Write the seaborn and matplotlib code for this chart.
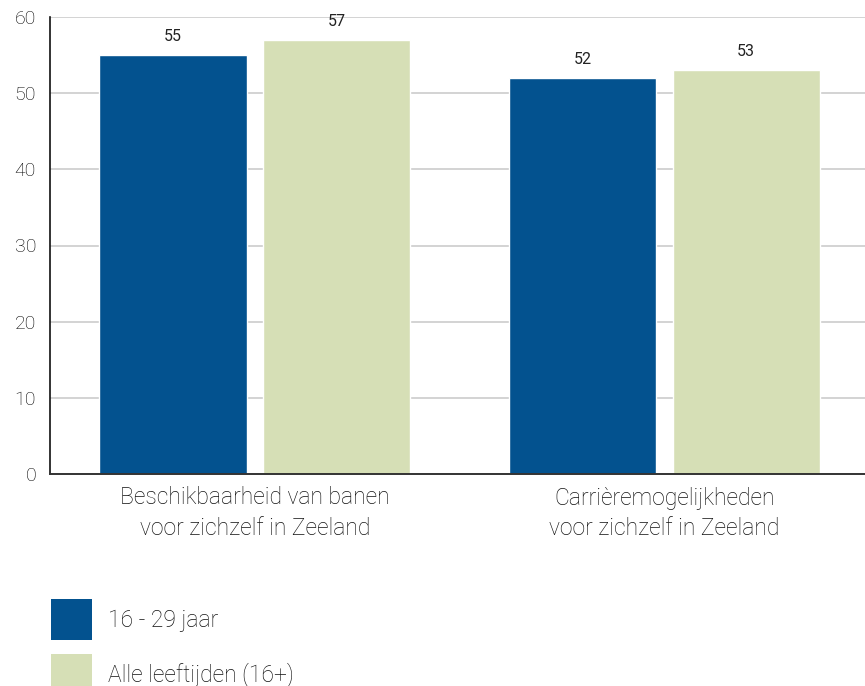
import pandas as pd
import matplotlib.pyplot as plt
import seaborn as sb
from matplotlib.patches import Patch

# data
categories = ["Beschikbaarheid van banen\nvoor zichzelf in Zeeland",
              "Carrièremogelijkheden\nvoor zichzelf in Zeeland"]
groups = ["16 - 29 jaar", "Alle leeftijden (16+)"]
jong = [55, 52]
alle = [57, 53]
colors = ["#03528f", "#d6dfb6"]

df = pd.DataFrame({
    "categorie": categories * 2,
    "groep": [groups[0]] * 2 + [groups[1]] * 2,
    "waarde": jong + alle,
})

sb.set_style("white")
plt.rcParams["font.family"] = ["Roboto", "DejaVu Sans"]
plt.rcParams["font.weight"] = "light"
txt = "#111111"

fig = plt.figure(figsize=(8.65, 6.86), dpi=100)
ax = fig.add_axes([50 / 865, 1 - 474 / 686, 1 - 50 / 865, (474 - 17) / 686])

sb.barplot(data=df, x="categorie", y="waarde", hue="groep", palette=colors,
           width=0.8, gap=0.1, saturation=1, legend=False, ax=ax, zorder=2)

for c in ax.containers:
    ax.bar_label(c, padding=8, fontsize=11.5, color="#222222", fontweight="normal")

ax.set_ylim(0, 60)
ax.set_xlim(-0.5, 1.49)
ax.set_yticks(range(0, 61, 10))
ax.yaxis.grid(True, color="#cccccc", linewidth=1.2, zorder=0)
ax.xaxis.grid(False)
ax.set_xlabel("")
ax.set_ylabel("")

for s in ["top", "right"]:
    ax.spines[s].set_visible(False)
ax.spines["left"].set_color("#111111")
ax.spines["left"].set_linewidth(1.2)
ax.spines["bottom"].set_color("#333333")
ax.spines["bottom"].set_linewidth(1.4)

ax.tick_params(axis="y", direction="in", length=15, width=1.5, color="#111111",
               labelsize=14, labelcolor="#000000", pad=10)
ax.tick_params(axis="x", length=0, labelsize=16.5, labelcolor=txt, pad=9)
ax.set_xticks([0.5], minor=True)
ax.tick_params(axis="x", which="minor", direction="in", length=8, width=1.2, color="#333333")
for lab in ax.get_xticklabels():
    lab.set_linespacing(1.4)

handles = [Patch(facecolor=colors[0], edgecolor="none"),
           Patch(facecolor=colors[1], edgecolor="none")]
leg = fig.legend(handles, groups, loc="upper left",
                 bbox_to_anchor=(51 / 865, 1 - 599 / 686), frameon=False,
                 fontsize=16.5, handlelength=1.79, handleheight=2.37,
                 handletextpad=0.7, labelspacing=0.6, borderpad=0, borderaxespad=0)
for t in leg.get_texts():
    t.set_color(txt)

fig.savefig("out.png", dpi=100)
